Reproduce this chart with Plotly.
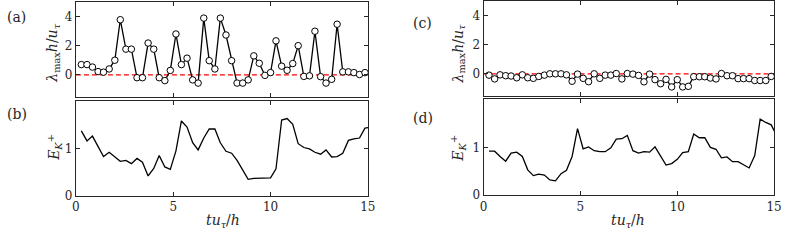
import plotly.graph_objects as go

# time grid (t u_tau / h)
t = [0.28, 0.57, 0.85, 1.14, 1.42, 1.71, 2.00, 2.28, 2.57, 2.85, 3.14, 3.42, 3.71,
     4.00, 4.28, 4.57, 4.85, 5.14, 5.42, 5.71, 6.00, 6.28, 6.57, 6.85, 7.14, 7.42,
     7.71, 8.00, 8.28, 8.57, 8.85, 9.14, 9.42, 9.71, 10.00, 10.28, 10.57, 10.85,
     11.14, 11.42, 11.71, 12.00, 12.28, 12.57, 12.85, 13.14, 13.42, 13.71, 14.00,
     14.28, 14.57, 14.85, 15.14]

lam_a = [0.70, 0.70, 0.53, 0.22, 0.18, 0.40, 1.00, 3.78, 1.76, 1.76,
         -0.20, -0.20, 2.18, 1.76, -0.20, -0.40, 0.30, 2.80, 0.70, 1.14,
         -0.35, -0.57, 3.89, 0.97, 0.40, 3.89, 2.73, 0.97, -0.57, -0.57,
         -0.35, 1.30, 0.79, -0.04, 0.15, 2.33, 0.59, 0.31, 0.77, 2.00,
         -0.11, -0.07, 2.99, -0.13, -0.57, -0.31, 3.47, 0.20, 0.20, 0.15,
         0.02, 0.15]

ek_b = [1.37, 1.16, 1.26, 1.03, 0.83, 0.92, 0.82, 0.73, 0.75, 0.68,
        0.79, 0.71, 0.42, 0.58, 0.85, 0.61, 0.56, 0.95, 1.58, 1.45,
        1.12, 0.97, 1.22, 1.41, 1.41, 1.12, 0.94, 0.90, 0.75, 0.56,
        0.35, 0.37, 0.37, 0.37, 0.38, 0.57, 1.60, 1.63, 1.51, 1.10,
        1.02, 0.99, 0.92, 0.88, 0.97, 0.82, 0.83, 0.90, 1.17, 1.20,
        1.22, 1.43, 1.45]

lam_c = [-0.09, -0.35, -0.07, -0.13, -0.15, -0.27, -0.07, -0.27, -0.31, -0.18,
         -0.09, 0.00, 0.00, 0.00, -0.07, -0.51, -0.02, -0.31, -0.54, 0.00,
         -0.31, -0.09, -0.09, 0.02, -0.35, 0.02, -0.02, -0.11, -0.55, -0.02,
         -0.40, -0.68, -0.38, -0.90, -0.40, -0.90, -0.86, -0.20, -0.20, -0.20,
         -0.29, -0.35, 0.02, -0.13, -0.13, -0.33, -0.33, -0.33, -0.46, -0.46,
         -0.46, -0.18]

ek_d = [0.92, 0.92, 0.81, 0.71, 0.88, 0.90, 0.81, 0.53, 0.41, 0.44,
        0.42, 0.32, 0.30, 0.45, 0.52, 0.81, 1.39, 0.97, 1.01, 0.93,
        0.91, 0.91, 0.99, 1.17, 1.18, 1.25, 0.93, 0.88, 0.91, 0.90,
        1.01, 0.81, 0.63, 0.66, 0.75, 0.89, 0.91, 1.28, 1.20, 1.20,
        1.00, 0.96, 0.78, 0.80, 0.70, 0.70, 0.64, 0.57, 0.83, 1.59,
        1.52, 1.47, 1.24]

x_ticks = [0, 5, 10, 15]
x_ticklabels = ["0", "5", "10", "15"]
lam_ticks = [0, 2, 4]
ek_ticks = [0, 1]
zero_line_x = [0, 15]
zero_line_y = [0, 0]

W, H = 789, 244
FONT = "DejaVu Serif"
AX = "#262626"

fig = go.Figure()

def add_lambda(xa, ya, vals):
    fig.add_trace(go.Scatter(x=zero_line_x, y=zero_line_y, mode="lines",
                             line=dict(color="#ff0000", width=1.2, dash="5px,3px"),
                             xaxis=xa, yaxis=ya, showlegend=False, hoverinfo="skip"))
    fig.add_trace(go.Scatter(x=t[:len(vals)], y=vals, mode="lines+markers",
                             line=dict(color="black", width=1.3),
                             marker=dict(symbol="circle", size=6.5, color="white",
                                         line=dict(color="black", width=1)),
                             xaxis=xa, yaxis=ya, showlegend=False))

def add_ek(xa, ya, vals):
    fig.add_trace(go.Scatter(x=t[:len(vals)], y=vals, mode="lines",
                             line=dict(color="black", width=1.3),
                             xaxis=xa, yaxis=ya, showlegend=False))

add_lambda("x", "y", lam_a)
add_ek("x2", "y2", ek_b)
add_lambda("x3", "y3", lam_c)
add_ek("x4", "y4", ek_d)

def px_x(p):
    return p / W

def px_y(p):
    return 1 - p / H

common = dict(showline=True, linecolor=AX, linewidth=1, mirror="ticks",
              ticks="inside", ticklen=4, tickcolor=AX, tickwidth=1,
              showgrid=False, zeroline=False,
              tickfont=dict(family=FONT, size=12, color=AX))

left_dom = [px_x(73), px_x(369.5)]
right_dom = [px_x(487), px_x(782)]

fig.update_layout(
    width=W, height=H, margin=dict(l=0, r=0, t=0, b=0),
    paper_bgcolor="white", plot_bgcolor="white",
    font=dict(family=FONT, color=AX),
    xaxis=dict(domain=left_dom, anchor="y", range=[0, 15], tickvals=x_ticks,
               showticklabels=False, **common),
    yaxis=dict(domain=[px_y(99.5), px_y(2)], anchor="x", range=[-1.5, 5],
               tickvals=lam_ticks, **common),
    xaxis2=dict(domain=left_dom, anchor="y2", range=[0, 15], tickvals=x_ticks,
                ticktext=x_ticklabels, **common),
    yaxis2=dict(domain=[px_y(201.7), px_y(104)], anchor="x2", range=[0, 2],
                tickvals=ek_ticks, **common),
    xaxis3=dict(domain=right_dom, anchor="y3", range=[0, 15], tickvals=x_ticks,
                showticklabels=False, **common),
    yaxis3=dict(domain=[px_y(98.5), px_y(1)], anchor="x3", range=[-1.5, 5],
                tickvals=lam_ticks, **common),
    xaxis4=dict(domain=right_dom, anchor="y4", range=[0, 15], tickvals=x_ticks,
                ticktext=x_ticklabels, **common),
    yaxis4=dict(domain=[px_y(201), px_y(102.4)], anchor="x4", range=[0, 2],
                tickvals=ek_ticks, **common),
)

lam_title = "<i>λ</i><sub>max</sub><i>h</i>/<i>u</i><sub><i>τ</i></sub>"
ek_title = "<i>E</i><sub><i>K</i></sub><sup>+</sup>"
x_title = "<i>tu</i><sub><i>τ</i></sub>/<i>h</i>"

def ann(text, x, y, size, angle=0):
    fig.add_annotation(text=text, x=px_x(x), y=px_y(y), xref="paper", yref="paper",
                       showarrow=False, textangle=angle, xanchor="center", yanchor="middle",
                       font=dict(family=FONT, size=size, color=AX))

ann("(a)", 13, 17, 14)
ann("(b)", 13, 117, 14)
ann("(c)", 425, 24, 14)
ann("(d)", 425, 121, 14)
ann(lam_title, 50, 55, 14, -90)
ann(lam_title, 462, 55, 14, -90)
ann(ek_title, 51, 152, 14, -90)
ann(ek_title, 461, 152, 14, -90)
ann(x_title, 222, 228, 14)
ann(x_title, 634, 228, 14)

fig.write_html("out.html", config={"displayModeBar": False},
               post_script="document.body.style.margin='0';document.body.style.overflow='hidden';")
